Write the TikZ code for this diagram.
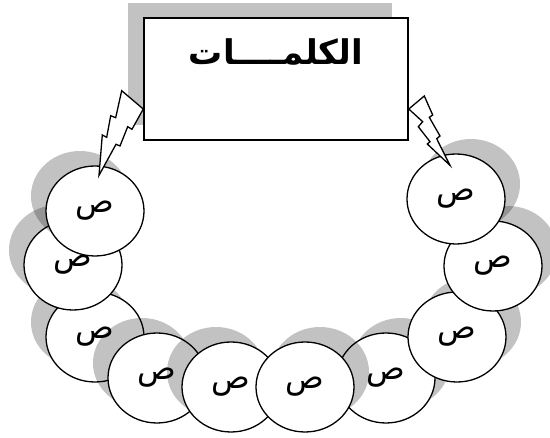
\documentclass[tikz,border=0pt]{standalone}
\usepackage{fontspec}
\newfontfamily\arabicfont[Script=Arabic]{DejaVu Sans}
\TeXXeTstate=1
\usetikzlibrary{shapes.geometric,shadows,calc}

\begin{document}
\begin{tikzpicture}[x=1pt,y=-1pt,
	harf/.style={ellipse,draw,fill=white,line width=1.3pt,minimum width=98pt,minimum height=90pt,inner sep=0pt,font=\arabicfont\fontsize{32}{32}\selectfont},
	harfL/.style={harf,drop shadow={shadow xshift=-15pt,shadow yshift=15pt,fill=black,opacity=.24}},
	harfR/.style={harf,drop shadow={shadow xshift=15pt,shadow yshift=15pt,fill=black,opacity=.24}},
	bolt/.style={draw,fill=white,line width=1.3pt,line join=miter}]
	\useasboundingbox (0,0) rectangle (550,438);
	\node[draw,fill=white,line width=1.5pt,minimum width=264pt,minimum height=122pt,drop shadow={shadow xshift=-16pt,shadow yshift=15pt,fill=black,opacity=.24}] (kalimat) at (276,79) {};
	\node[font=\arabicfont\bfseries\fontsize{34}{34}\selectfont] (onwan) at (276,52) {\beginR الكلمــــات\endR};
	% each letter covers the one drawn before it
	\node[harfL] (c3) at (95,337) {\beginR ص\endR};
	\node[harfL] (c4) at (157,378) {\beginR ص\endR};
	\node[harfL] (c5) at (231,387) {\beginR ص\endR};
	\node[harfR] (c7) at (386,378) {\beginR ص\endR};
	\node[harfR] (c6) at (305,387) {\beginR ص\endR};
	\node[harfR] (c8) at (457,337) {\beginR ص\endR};
	\node[harfR] (c9) at (493,266) {\beginR ص\endR};
	\node[harfR] (c10) at (456,199) {\beginR ص\endR};
	\node[harfL] (c2) at (73,265) {\beginR ص\endR};
	\node[harfL] (c1) at (95,211) {\beginR ص\endR};
	% bolts from the box down to the first and last letter
	\draw[bolt] ($(kalimat.west)+(0,30)$) -- (132,129.3) -- (127.7,126.7) -- (120,146) -- (116,144.3)
		-- ($(c1.north)+(4,10)$) -- (102.3,135) -- (106.7,137.3) -- (110.7,115.7) -- (115.7,117.7) -- (121.7,90.7) -- cycle;
	\draw[bolt] ($(kalimat.east)+(0,30)$) -- (422.7,121.7) -- (418.3,126.7) -- (430,141.7) -- (427.3,144)
		-- ($(c10.north)+(-6,12)$) -- (436.7,138.7) -- (440,136) -- (429.3,117.3) -- (432.7,115) -- (424.3,96) -- cycle;
\end{tikzpicture}
\end{document}
